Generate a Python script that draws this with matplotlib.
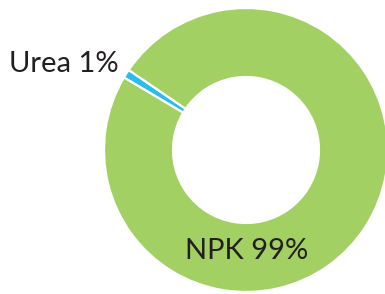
import matplotlib
matplotlib.use("Agg")
import matplotlib.pyplot as plt

labels = ["Urea", "NPK"]
shares = [1, 99]
colors = ["#29bdef", "#a2d063"]

W, H = 385, 294
fig = plt.figure(figsize=(W / 100, H / 100), dpi=100)
ax = fig.add_axes([0, 0, 1, 1])

ax.pie(shares, colors=colors, startangle=145.7, counterclock=True,
       center=(246, 144), radius=142,
       wedgeprops=dict(width=142 * 0.486, edgecolor="white", linewidth=1.6))

# pie() resets the limits, so set them afterwards
ax.set_xlim(0, W)
ax.set_ylim(0, H)
ax.set_aspect("equal")
ax.axis("off")

font = dict(family=["Lato", "DejaVu Sans"], color="#231f20", fontsize=21)
ax.text(9, H - 72, f"{labels[0]} {shares[0]}%", ha="left", va="baseline", **font)
ax.text(247, H - 259, f"{labels[1]} {shares[1]}%", ha="center", va="baseline", **font)

fig.savefig("out.png", dpi=100)
